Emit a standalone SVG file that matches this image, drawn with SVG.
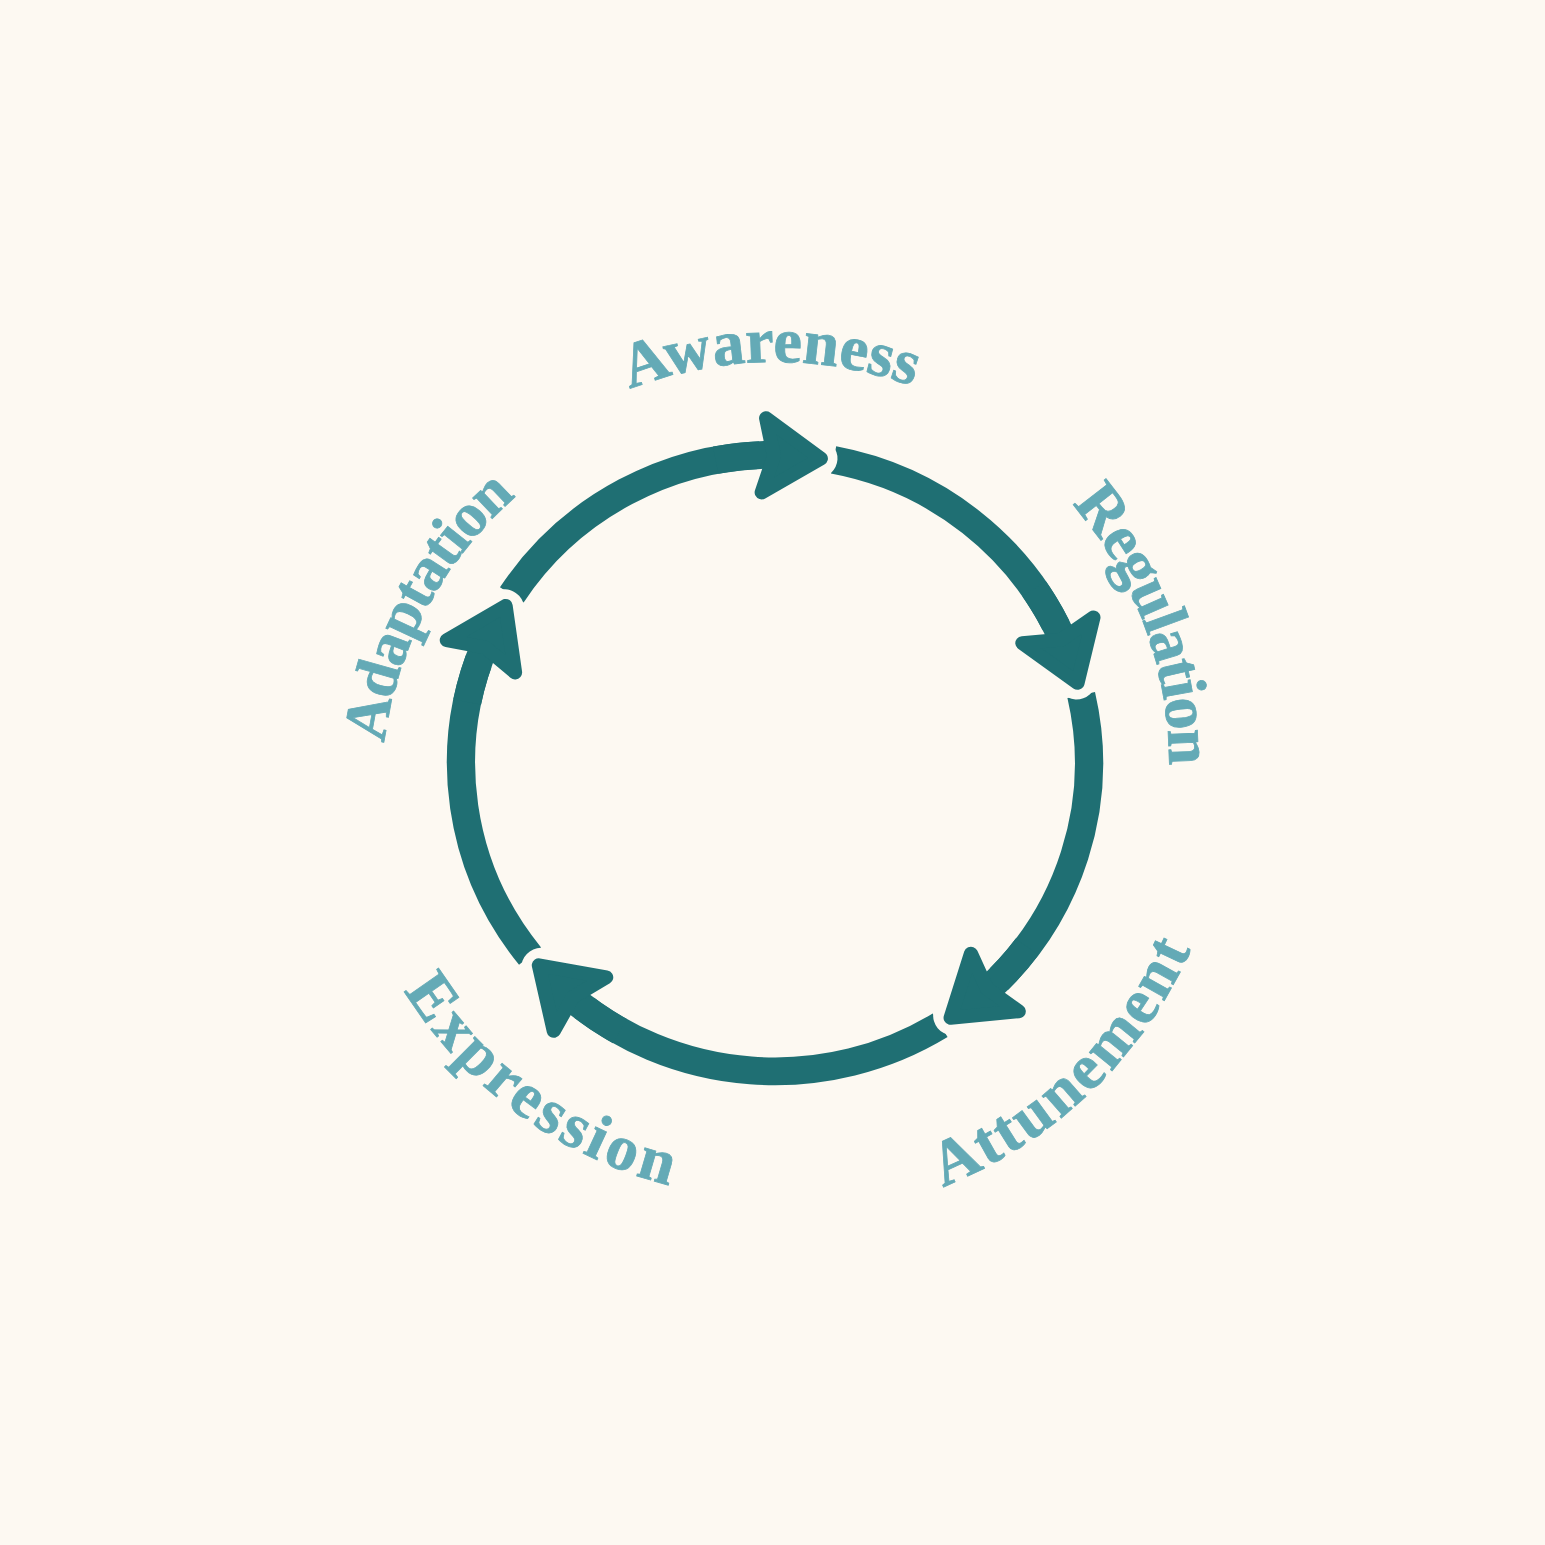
<svg xmlns="http://www.w3.org/2000/svg" xmlns:xlink="http://www.w3.org/1999/xlink" width="1545" height="1545" viewBox="0 0 1545 1545">
<style>
.shaft{fill:none;stroke:#1F6F73;stroke-width:28;stroke-linecap:butt}
.gap{fill:#FDF9F2;stroke:#FDF9F2;stroke-width:23;stroke-linejoin:round}
.gapc{fill:#FDF9F2}
.head{fill:#1F6F73;stroke:#1F6F73;stroke-width:14;stroke-linejoin:round}
.lbl{font-family:"Liberation Serif","DejaVu Serif",serif;font-weight:bold;font-size:64px;fill:#64AAB6;stroke:#64AAB6;stroke-width:0.8}
</style>
<defs>
<path id="hd" d="M -6.5 0 L -63 -37.5 L -53 0 L -63 37.5 Z"/>
<g id="gp"><use href="#hd" class="gap"/><circle class="gapc" cx="-10" cy="0" r="20"/></g>
<path id="pAwareness" d="M 374 767.2 A 401 401 0 0 1 1176 758.8"/>
<path id="pRegulation" d="M 637 393.9 A 394 394 0 0 1 913 1132.1"/>
<path id="pAdaptation" d="M 585 1136.1 A 392 392 0 0 1 953 443.9"/>
<path id="pAttunement" d="M 446.4 1079.2 A 456 456 0 0 0 1103.6 446.8"/>
<path id="pExpression" d="M 420.7 505.5 A 438 438 0 0 0 1129.3 1020.5"/>
</defs>
<rect width="1545" height="1545" fill="#FDF9F2"/>
<g id="connectors" transform="translate(775 763) scale(1.0096 0.9916) translate(-775 -763)">
<path class="shaft" d="M 514.3 593.4 A 311 311 0 0 1 775.5 452"/>
<path class="shaft" d="M 833 457.4 A 311 311 0 0 1 1060.4 639.5"/>
<path class="shaft" d="M 1078.3 694.4 A 311 311 0 0 1 984.7 992.7"/>
<path class="shaft" d="M 938.6 1027.5 A 311 311 0 0 1 572.6 999.1"/>
<path class="shaft" d="M 532.4 957.7 A 311 311 0 0 1 487.5 644.5"/>
<use href="#gp" transform="translate(826.9 456.4) rotate(3.35)"/>
<use href="#gp" transform="translate(1076.9 688.3) rotate(69.85)"/>
<use href="#gp" transform="translate(943.9 1024.1) rotate(140.85)"/>
<use href="#gp" transform="translate(536.4 962.5) rotate(223.85)"/>
<use href="#gp" transform="translate(511 598.7) rotate(295.65)"/>
<path class="shaft" d="M 716.2 457.6 A 311 311 0 0 1 775.5 452"/>
<path class="shaft" d="M 1031.6 587.3 A 311 311 0 0 1 1060.4 639.5"/>
<path class="shaft" d="M 1024.7 948.4 A 311 311 0 0 1 984.7 992.7"/>
<path class="shaft" d="M 621.4 1033.4 A 311 311 0 0 1 572.6 999.1"/>
<path class="shaft" d="M 470.1 701.5 A 311 311 0 0 1 487.5 644.5"/>
<use href="#hd" class="head" transform="translate(826.9 456.4) rotate(3.35)"/>
<use href="#hd" class="head" transform="translate(1076.9 688.3) rotate(69.85)"/>
<use href="#hd" class="head" transform="translate(943.9 1024.1) rotate(140.85)"/>
<use href="#hd" class="head" transform="translate(536.4 962.5) rotate(223.85)"/>
<use href="#hd" class="head" transform="translate(511 598.7) rotate(295.65)"/>
</g>
<g id="awareness"><text class="lbl" letter-spacing="0"><textPath href="#pAwareness" startOffset="50%" text-anchor="middle">Awareness</textPath></text></g>
<g id="regulation"><text class="lbl" letter-spacing="-1.5"><textPath href="#pRegulation" startOffset="50%" text-anchor="middle">Regulation</textPath></text></g>
<g id="attunement"><text class="lbl" letter-spacing="2.8"><textPath href="#pAttunement" startOffset="50%" text-anchor="middle">Attunement</textPath></text></g>
<g id="expression"><text class="lbl" letter-spacing="4"><textPath href="#pExpression" startOffset="50%" text-anchor="middle">Expression</textPath></text></g>
<g id="adaptation"><text class="lbl" style="font-size:62px" letter-spacing="-1.5"><textPath href="#pAdaptation" startOffset="50%" text-anchor="middle">Adaptation</textPath></text></g>
</svg>
